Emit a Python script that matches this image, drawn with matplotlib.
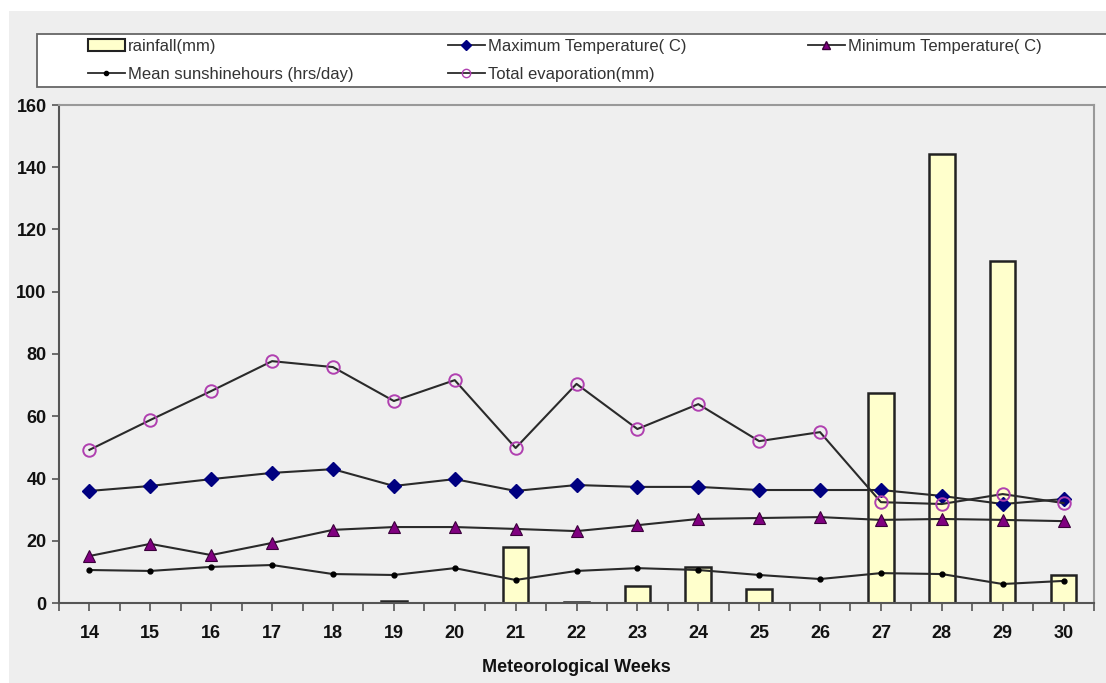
import matplotlib
matplotlib.use("Agg")
import matplotlib.pyplot as plt
from matplotlib.patches import Rectangle
from matplotlib.lines import Line2D
import numpy as np

weeks = [14, 15, 16, 17, 18, 19, 20, 21, 22, 23, 24, 25, 26, 27, 28, 29, 30]
rainfall = [0, 0, 0, 0, 0, 0.8, 0, 18, 0.3, 5.5, 11.6, 4.5, 0, 67.5, 144.3, 110, 9]
max_temp = [36.0, 37.6, 39.8, 41.8, 43.0, 37.6, 39.8, 36.0, 37.9, 37.3, 37.3, 36.3, 36.3, 36.3, 34.4, 31.8, 33.4]
min_temp = [15.1, 19.0, 15.4, 19.3, 23.5, 24.4, 24.4, 23.8, 23.1, 25.0, 27.0, 27.3, 27.6, 26.7, 27.0, 26.7, 26.3]
sunshine = [10.6, 10.3, 11.6, 12.2, 9.3, 9.0, 11.2, 7.4, 10.3, 11.2, 10.6, 9.0, 7.7, 9.6, 9.3, 6.1, 7.1]
evaporation = [49.2, 58.8, 68.1, 77.7, 75.8, 64.9, 71.6, 49.8, 70.4, 55.9, 63.9, 52.0, 54.9, 32.4, 31.8, 35.0, 32.1]
y_ticks = [0, 20, 40, 60, 80, 100, 120, 140, 160]

plt.rcParams["font.family"] = ["Liberation Sans", "DejaVu Sans"]

W, H = 1106, 683
fig = plt.figure(figsize=(W / 100, H / 100), dpi=100, facecolor="white")

# grey page panel behind everything
fig.patches.append(Rectangle((9 / W, 0), 1, 1 - 11 / H, transform=fig.transFigure,
                             facecolor="#eeeeee", edgecolor="none", zorder=-5))

ax = fig.add_axes([59 / W, 80 / H, (1094 - 59) / W, (603 - 105) / H])
ax.set_facecolor("#efefef")

line_col = "#2a2a2a"
lw = 1.5

# only weeks with recorded rain get a bar
wk = np.array(weeks)
rain = np.array(rainfall)
wet = rain > 0
ax.bar(wk[wet], rain[wet], width=0.42, color="#ffffcc", edgecolor="#222222",
       linewidth=1.8, zorder=2)
ax.plot(weeks, sunshine, color=line_col, lw=lw, marker="o", ms=3.5,
        mfc="black", mec="black", zorder=3)
ax.plot(weeks, min_temp, color=line_col, lw=lw, marker="^", ms=9,
        mfc="#800080", mec="#3a003a", mew=0.8, zorder=3)
ax.plot(weeks, max_temp, color=line_col, lw=lw, marker="D", ms=7,
        mfc="#000080", mec="#000080", zorder=3)
ax.plot(weeks, evaporation, color=line_col, lw=lw, marker="o", ms=9,
        mfc="none", mec="#b040b0", mew=1.4, zorder=4)

ax.set_xlim(13.5, 30.5)
ax.set_ylim(0, 160)
ax.set_xticks(weeks)
ax.set_xticks(np.arange(13.5, 30.6, 1.0), minor=True)
ax.set_yticks(y_ticks)
ax.tick_params(axis="x", which="both", direction="out", length=6, width=1.2,
               color="#555555", pad=10)
ax.tick_params(axis="y", direction="out", length=5, width=1.2, color="#555555", pad=4)
for lab in ax.get_xticklabels() + ax.get_yticklabels():
    lab.set_fontweight("bold")
    lab.set_fontsize(13)
    lab.set_color("#111111")

for side in ["left", "bottom"]:
    ax.spines[side].set_color("#555555")
    ax.spines[side].set_linewidth(1.5)
for side in ["top", "right"]:
    ax.spines[side].set_color("#999999")
    ax.spines[side].set_linewidth(1.5)

ax.set_xlabel("Meteorological Weeks", fontsize=13, fontweight="bold", labelpad=12,
              color="#111111")

# legend box
fig.patches.append(Rectangle((37 / W, 1 - 87 / H), 1.2, (87 - 34) / H,
                             transform=fig.transFigure, facecolor="white",
                             edgecolor="#666666", lw=1.3, zorder=1))

h_rain = Rectangle((0, 0), 1, 1, facecolor="#ffffcc", edgecolor="#222222", lw=1.5)
h_sun = Line2D([], [], color=line_col, lw=1.3, marker="o", ms=3, mfc="black", mec="black")
h_max = Line2D([], [], color=line_col, lw=1.3, marker="D", ms=5, mfc="#000080", mec="#000080")
h_evap = Line2D([], [], color=line_col, lw=1.3, marker="o", ms=6, mfc="none", mec="#b040b0")
h_min = Line2D([], [], color=line_col, lw=1.3, marker="^", ms=6, mfc="#800080", mec="#3a003a")

columns = [
    (88, [h_rain, h_sun], ["rainfall(mm)", "Mean sunshinehours (hrs/day)"]),
    (448, [h_max, h_evap], ["Maximum Temperature( C)", "Total evaporation(mm)"]),
    (808, [h_min], ["Minimum Temperature( C)"]),
]
for x0, hs, labs in columns:
    leg = fig.legend(hs, labs, loc="upper left", bbox_to_anchor=(x0 / W, 1 - 39 / H),
                     frameon=False, fontsize=12, handlelength=2.2, handletextpad=0.2,
                     labelspacing=0.75, borderaxespad=0, borderpad=0)
    for t in leg.get_texts():
        t.set_color("#333333")

fig.savefig("out.png", dpi=100, facecolor="white")
